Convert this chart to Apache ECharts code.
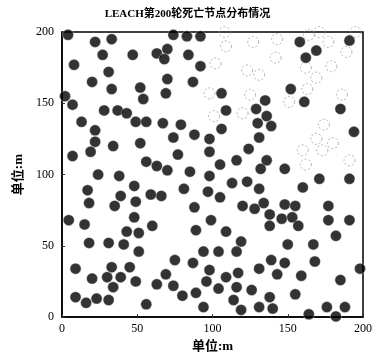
<!DOCTYPE html>
<html>
<head>
<meta charset="utf-8">
<script src="https://cdn.jsdelivr.net/npm/echarts@6/dist/echarts.min.js"></script>
<style>
  html, body { margin: 0; padding: 0; background: #fff; }
  #main { width: 375px; height: 358px; }
</style>
</head>
<body>
<div id="main"></div>
<script>
// nodes still alive after round 200 (x, y in metres)
const aliveNodes = [
  [4,198],[22,193],[33,195],[27,184],[47,184],[63,185],[8,177],[31,172],[20,165],[33,160],
  [52,161],[54,153],[2,155],[7,149],[28,145],[37,145],[43,143],[13,137],[49,137],[56,137],
  [22,131],[74,198],[83,197],[92,197],[70,188],[68,181],[84,184],[92,176],[70,167],
  [87,165],[69,157],[106,157],[109,145],[129,146],[67,136],[79,135],[106,132],[130,136],[158,193],
  [191,194],[169,187],[162,182],[152,160],[161,151],[185,146],[135,152],[136,141],[139,134],[131,126],
  [194,130],[136,110],[132,104],[148,104],[171,97],[191,97],[160,91],[131,90],[134,80],[148,79],
  [155,78],[177,78],[138,72],[146,69],[153,70],[177,68],[191,68],[74,126],[88,128],[98,125],
  [124,118],[98,116],[77,114],[116,110],[105,107],[63,106],[70,103],[85,102],[98,99],[113,94],
  [123,95],[81,90],[97,88],[105,84],[66,85],[59,86],[88,77],[120,78],[128,76],[99,68],
  [22,123],[34,120],[52,122],[19,116],[7,113],[56,109],[24,100],[38,99],[48,92],[17,89],
  [39,85],[18,80],[35,78],[49,81],[4.5,68],[48,70],[15,65],[43,60],[51,59],[60,64],
  [18,52],[31,52],[41,51],[51,46],[9,34],[33,35],[45,35],[20,27],[30,28],[39,28],
  [49,25],[34,21],[63,23],[9,14],[16,10],[23,13],[31,12],[56,9],[89,61],[109,60],
  [119,53],[94,46],[104,46],[116,46],[75,40],[87,38],[98,33],[69,30],[109,28],[117,31],
  [131,34],[74,22],[96,25],[104,20],[116,21],[126,19],[80,15],[89,17],[114,12],[94,7],
  [119,5],[131,7],[138,64],[157,64],[182,57],[150,51],[167,51],[139,40],[148,38],[168,39],
  [143,30],[159,29],[198,34],[185,26],[155,16],[138,14],[140,6],[164,2],[176,7],[188,7],
  [182,0.5]
];
// nodes dead by round 200
const deadNodes = [
  [108,200],[109,190],[127,193],[102,178],[123,173],[131,170],[98,157],[125,156],[101,141],[120,143],
  [143,195],[164,198],[171,200],[177,193],[195,200],[189,186],[142,182],[162,175],[179,176],[163,160],
  [186,156],[151,151],[174,135],[169,125],[180,122],[160,117],[173,117],[162,107],[191,110],[169,168]
];
const axisTicks = [0, 50, 100, 150, 200];
const titleText = 'LEACH第200轮死亡节点分布情况';
const unitText = '单位:m';

const serif = '"Liberation Serif", "DejaVu Serif", "Noto Sans CJK SC", serif';

var chartDom = document.getElementById('main');
var myChart = echarts.init(chartDom);

function axisBase() {
  return {
    type: 'value',
    min: axisTicks[0],
    max: axisTicks[axisTicks.length - 1],
    interval: 50,
    axisLine: { show: true, onZero: false, lineStyle: { color: '#000', width: 1.5 } },
    axisTick: { show: true, inside: true, length: 3, lineStyle: { color: '#333' } },
    axisLabel: { color: '#000', fontFamily: serif, fontSize: 12 },
    splitLine: { show: false }
  };
}

let option = {
  animation: false,
  backgroundColor: '#fff',
  title: {
    text: titleText,
    left: 'center',
    top: 4,
    textStyle: { fontFamily: serif, fontSize: 11, fontWeight: 'bold', color: '#000' }
  },
  grid: {
    left: 62, right: 8, top: 32, bottom: 33,
    show: true, borderColor: '#000', borderWidth: 1.5
  },
  xAxis: Object.assign(axisBase(), {
    name: unitText,
    nameLocation: 'middle',
    nameGap: 21,
    nameTextStyle: { fontFamily: serif, fontSize: 13, fontWeight: 'bold', color: '#000' },
    axisLabel: { color: '#000', fontFamily: serif, fontSize: 12, margin: 6 }
  }),
  yAxis: Object.assign(axisBase(), {
    name: unitText,
    nameLocation: 'middle',
    nameGap: 36,
    nameRotate: 90,
    nameTextStyle: { fontFamily: serif, fontSize: 13, fontWeight: 'bold', color: '#000' },
    axisLabel: { color: '#000', fontFamily: serif, fontSize: 12, margin: 8 }
  }),
  series: [
    {
      name: 'dead',
      type: 'scatter',
      data: deadNodes,
      symbolSize: 11,
      clip: false,
      itemStyle: {
        color: 'rgba(255,255,255,0)',
        borderColor: '#888',
        borderWidth: 0.8,
        borderType: [2, 2]
      }
    },
    {
      name: 'alive',
      type: 'scatter',
      data: aliveNodes,
      symbolSize: 11,
      clip: false,
      itemStyle: {
        color: '#000',
        borderColor: '#ddd',
        borderWidth: 0.5
      }
    }
  ]
};

myChart.setOption(option);
</script>
</body>
</html>
